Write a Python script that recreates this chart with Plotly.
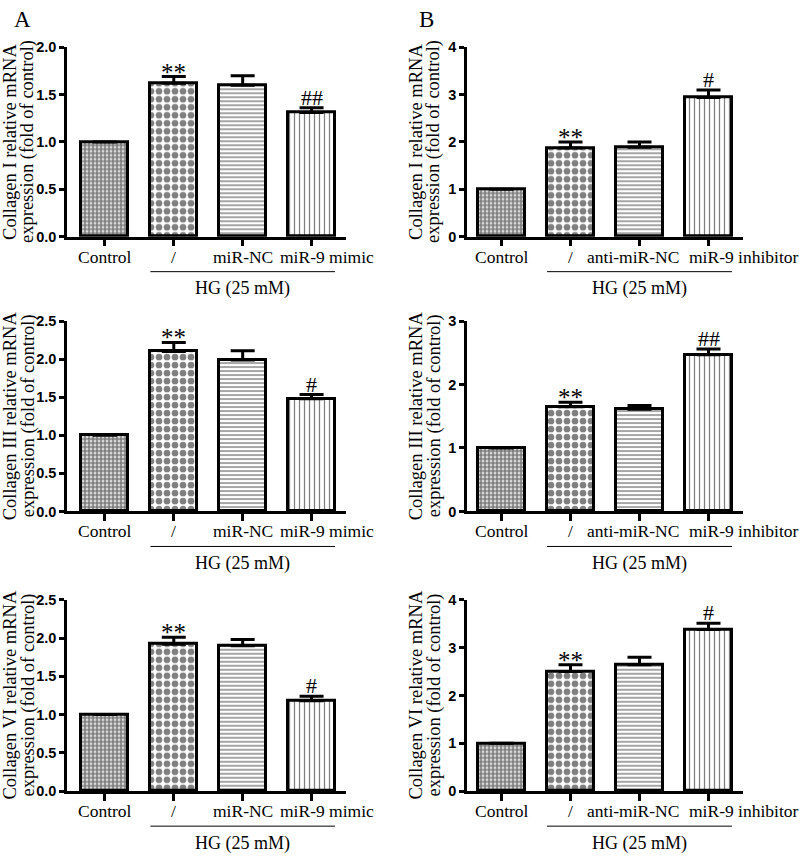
import plotly.graph_objects as go

# === Groups on the x axis
groups_a = ["Control", "/", "miR-NC", "miR-9 mimic"]
groups_b = ["Control", "/", "anti-miR-NC", "miR-9 inhibitor"]

# === Relative mRNA expression (fold of control), mean and SEM
col1_a = [1.00, 1.62, 1.60, 1.31]
err1_a = [0.0, 0.07, 0.10, 0.05]
col3_a = [1.00, 2.10, 1.99, 1.48]
err3_a = [0.0, 0.12, 0.12, 0.055]
col6_a = [1.00, 1.92, 1.90, 1.18]
err6_a = [0.0, 0.09, 0.08, 0.06]

col1_b = [1.00, 1.87, 1.89, 2.94]
err1_b = [0.0, 0.13, 0.11, 0.16]
col3_b = [1.00, 1.65, 1.61, 2.47]
err3_b = [0.0, 0.07, 0.06, 0.09]
col6_b = [1.00, 2.50, 2.64, 3.38]
err6_b = [0.0, 0.14, 0.16, 0.13]

# significance marks above bars
sig1_a = ["", "**", "", "##"]
sig3_a = ["", "**", "", "#"]
sig6_a = ["", "**", "", "#"]
sig1_b = ["", "**", "", "#"]
sig3_b = ["", "**", "", "##"]
sig6_b = ["", "**", "", "#"]

titles = ["Collagen I relative mRNA", "Collagen III relative mRNA", "Collagen VI relative mRNA"]
title_line2 = "expression (fold of control)"
group_label = "HG (25 mM)"

# (row, col, groups, values, errors, marks, title, y max, dtick, tick format)
panels = [
    (1, 1, groups_a, col1_a, err1_a, sig1_a, titles[0], 2.0, 0.5, ".1f"),
    (1, 2, groups_b, col1_b, err1_b, sig1_b, titles[0], 4, 1, "d"),
    (2, 1, groups_a, col3_a, err3_a, sig3_a, titles[1], 2.5, 0.5, ".1f"),
    (2, 2, groups_b, col3_b, err3_b, sig3_b, titles[1], 3, 1, "d"),
    (3, 1, groups_a, col6_a, err6_a, sig6_a, titles[2], 2.5, 0.5, ".1f"),
    (3, 2, groups_b, col6_b, err6_b, sig6_b, titles[2], 4, 1, "d"),
]

# === Layout geometry (pixel rows/columns of the axes)
W, H = 800, 860


def paper_y(px):
    return 1 - px / H


row_dom = {
    1: [paper_y(233), paper_y(40)],
    2: [paper_y(513), paper_y(319)],
    3: [paper_y(798), paper_y(603)],
}
col_dom = {1: [67 / W, 346 / W], 2: [467 / W, 743 / W]}
col_range = {1: [-0.55, 3.5], 2: [-0.5, 3.5]}
label_shift = {1: [0, 0, 0, 15], 2: [0, 0, -7, 35]}
title_shift = {1: (-57, -39), 2: (-51, -33)}
bar_w = 0.68

serif = "Liberation Serif"
sans = "Liberation Sans"

pattern = dict(
    shape=[".", ".", "-", "|"],
    size=[4, 8, 4, 5],
    solidity=[0.75, 0.55, 0.35, 0.25],
    fgcolor="black",
    bgcolor="white",
)

fig = go.Figure()
annotations = []
shapes = []

for k, (row, col, groups, vals, errs, marks, title, ymax, dtick, fmt) in enumerate(panels):
    n = k + 1
    xa = "x" if n == 1 else f"x{n}"
    ya = "y" if n == 1 else f"y{n}"
    xs = list(range(len(groups)))

    fig.add_trace(go.Bar(
        x=xs, y=vals, width=bar_w,
        xaxis=xa, yaxis=ya,
        marker=dict(color="white", line=dict(color="black", width=3), pattern=pattern),
        error_y=dict(type="data", symmetric=False, array=errs, arrayminus=[0] * len(errs),
                     color="black", thickness=3, width=12),
        showlegend=False,
    ))

    xkey = "xaxis" if n == 1 else f"xaxis{n}"
    ykey = "yaxis" if n == 1 else f"yaxis{n}"
    fig.update_layout({
        xkey: dict(
            domain=col_dom[col], range=col_range[col], anchor=ya,
            tickvals=xs, showticklabels=False, ticks="outside", ticklen=7,
            tickwidth=2.5, tickcolor="black", showline=True, linewidth=2.5,
            linecolor="black", showgrid=False, zeroline=False,
        ),
        ykey: dict(
            domain=row_dom[row], range=[0, ymax], anchor=xa, dtick=dtick,
            tickformat=fmt, ticks="outside", ticklen=5, tickwidth=2.5,
            tickcolor="black", showline=True, linewidth=2.5, linecolor="black",
            showgrid=False, zeroline=False,
            tickfont=dict(family=sans, size=14.5, color="black", weight="bold"),
        ),
    })

    # category labels
    for i, g in enumerate(groups):
        annotations.append(dict(
            x=i, xref=xa, y=0, yref=f"{ya} domain", yanchor="middle", yshift=-20,
            xshift=label_shift[col][i], text=g, showarrow=False,
            font=dict(family=serif, size=17.5, color="black"),
        ))

    # significance marks
    for i, m in enumerate(marks):
        if m:
            star = m.startswith("*")
            annotations.append(dict(
                x=i, xref=xa, y=vals[i] + errs[i], yref=ya, yanchor="bottom",
                yshift=-11 if star else -4, text=m, showarrow=False,
                font=dict(family=serif, size=25 if star else 22, color="black"),
            ))

    # HG bracket
    shapes.append(dict(
        type="line", xref=xa, x0=1 - bar_w / 2, x1=len(groups) - 1 + bar_w / 2,
        yref=f"{ya} domain", ysizemode="pixel", yanchor=0, y0=-35, y1=-35,
        line=dict(color="black", width=1),
    ))
    annotations.append(dict(
        x=(1 + len(groups) - 1) / 2, xref=xa, y=0, yref=f"{ya} domain",
        yanchor="middle", yshift=-52, text=group_label, showarrow=False,
        font=dict(family=serif, size=18, color="black"),
    ))

    # y-axis titles (two lines)
    for line_text, shift in zip([title, title_line2], title_shift[col]):
        annotations.append(dict(
            x=0, xref=f"{xa} domain", y=0.5, yref=f"{ya} domain",
            xanchor="center", yanchor="middle", xshift=shift, textangle=-90,
            text=line_text, showarrow=False,
            font=dict(family=serif, size=18.5, color="black"),
        ))

# panel letters
annotations.append(dict(x=22 / W, y=paper_y(12), xref="paper", yref="paper", text="A",
                        xanchor="center", yanchor="middle", showarrow=False,
                        font=dict(family=serif, size=23, color="black")))
annotations.append(dict(x=427 / W, y=paper_y(12), xref="paper", yref="paper", text="B",
                        xanchor="center", yanchor="middle", showarrow=False,
                        font=dict(family=serif, size=23, color="black")))

fig.update_layout(
    width=W, height=H,
    margin=dict(l=0, r=0, t=0, b=0),
    paper_bgcolor="white", plot_bgcolor="white",
    annotations=annotations, shapes=shapes,
    bargap=0,
)

# pin the figure to the window's top-left corner (no page margin)
pin = (
    "document.documentElement.style.margin='0';"
    "document.body.style.margin='0';document.body.style.padding='0';"
    "document.body.style.overflow='hidden';"
    "var gd=document.getElementById('{plot_id}');"
    "gd.style.position='fixed';gd.style.top='0px';gd.style.left='0px';"
)
fig.write_html("out.html", config={"displayModeBar": False}, post_script=pin)
